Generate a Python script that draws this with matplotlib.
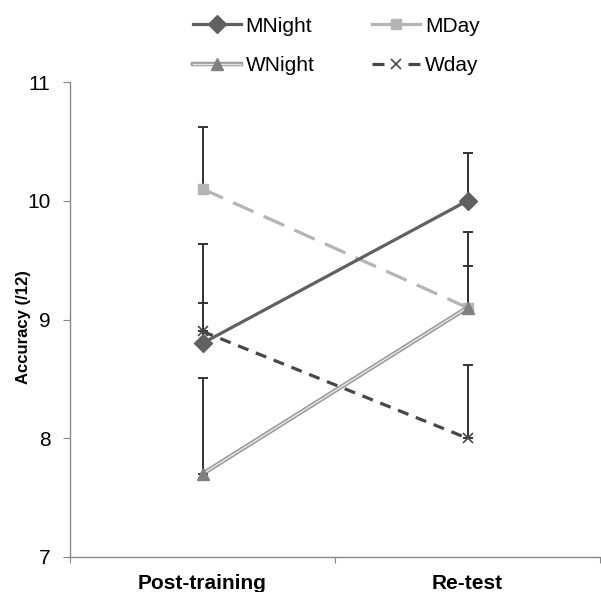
import matplotlib
matplotlib.use("Agg")
import matplotlib.pyplot as plt
import matplotlib.patheffects as pe
from matplotlib.lines import Line2D
from matplotlib.legend_handler import HandlerTuple

plt.rcParams['font.family'] = ['Liberation Sans', 'DejaVu Sans']

categories = ["Post-training", "Re-test"]
series_names = ["MNight", "MDay", "WNight", "Wday"]
mnight = [8.8, 10.0]
mday = [10.1, 9.1]
wnight = [7.7, 9.1]
wday = [8.9, 8.0]
mnight_err = [0.84, 0.40]
mday_err = [0.52, 0.64]
wnight_err = [0.81, 0.35]
wday_err = [0.24, 0.62]
yticks = [7, 8, 9, 10, 11]

fig = plt.figure(figsize=(6.01, 5.92), dpi=100)
ax = fig.add_axes([70/601, 1-557/592, 530/601, (557-82)/592])

x = [0.5, 1.5]
errc = '#333333'
for vals, errs in [(mnight, mnight_err), (mday, mday_err), (wnight, wnight_err), (wday, wday_err)]:
    ax.errorbar(x, vals, yerr=[[0, 0], errs], fmt='none', ecolor=errc,
                elinewidth=1.4, capsize=3.5, capthick=1.4, zorder=1)

# MNight
ax.plot(x, mnight, color='#606060', lw=2.3, marker='D', ms=9, mfc='#606060', mec='#606060', zorder=4)
# MDay
ax.plot(x, mday, color='#b4b4b4', lw=2.3, dashes=(7, 3.5), marker='s', ms=7, mfc='#b4b4b4', mec='#b4b4b4', zorder=3)
# WNight double line
ax.plot(x, wnight, color='#e8e8e8', lw=1.0,
        path_effects=[pe.Stroke(linewidth=3.2, foreground='#9a9a9a'), pe.Normal()], zorder=3)
ax.plot(x, wnight, ls='none', marker='^', ms=8, mfc='#808080', mec='#808080', zorder=4)
# Wday
ax.plot(x, wday, color='#484848', lw=2.3, dashes=(3.5, 2.5), marker='x', ms=7, mew=1.2,
        mec='#484848', zorder=3)

ax.set_xlim(0, 2)
ax.set_ylim(7, 11)
ax.set_yticks(yticks)
ax.set_yticklabels([str(t) for t in yticks], fontsize=15)
ax.set_xticks([0, 1, 2])
ax.set_xticklabels([])
ax.set_xticks(x, minor=True)
ax.set_xticklabels(categories, minor=True, fontsize=15, fontweight='bold')
ax.tick_params(axis='x', which='minor', length=0, pad=12)
ax.tick_params(axis='x', which='major', length=4, color='#888888', direction='out')
ax.tick_params(axis='y', length=5, color='#888888', direction='out', pad=9)
for s in ['top', 'right']:
    ax.spines[s].set_visible(False)
for s in ['left', 'bottom']:
    ax.spines[s].set_color('#888888')
    ax.spines[s].set_linewidth(1.0)
ax.set_ylabel("Accuracy (/12)", fontsize=12, fontweight='bold')
ax.yaxis.set_label_coords((31-70)/530, (557-327)/475)

# legend handles
h_mnight = Line2D([], [], color='#606060', lw=2.3, marker='D', ms=9, mfc='#606060', mec='#606060')
h_mday = Line2D([], [], color='#b4b4b4', lw=2.3, marker='s', ms=7, mfc='#b4b4b4', mec='#b4b4b4')
h_wn_line = Line2D([], [], color='#e8e8e8', lw=1.0,
                   path_effects=[pe.Stroke(linewidth=3.2, foreground='#9a9a9a'), pe.Normal()])
h_wn_mk = Line2D([], [], ls='none', marker='^', ms=8, mfc='#808080', mec='#808080')
h_wday = Line2D([], [], color='#484848', lw=2.3, dashes=(3.75, 7.5), marker='x', ms=7, mew=1.2, mec='#484848')

fig.legend([h_mnight, (h_wn_line, h_wn_mk), h_mday, h_wday], ["MNight", "WNight", "MDay", "Wday"],
           ncol=2, loc='upper left', bbox_to_anchor=(178/601, 1-2/592), frameon=False,
           fontsize=15, handlelength=2.3, handletextpad=0.25, columnspacing=2.75,
           labelspacing=1.0, borderaxespad=0.3,
           handler_map={tuple: HandlerTuple(ndivide=1, pad=0)})

fig.savefig("out.png", dpi=100)
